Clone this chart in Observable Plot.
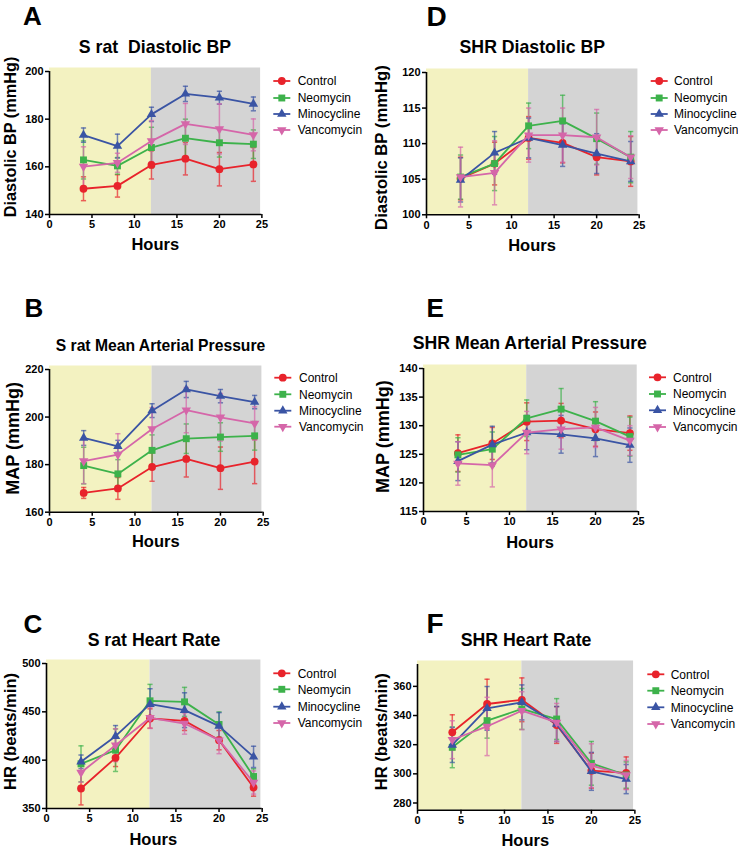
<!DOCTYPE html>
<html><head><meta charset="utf-8">
<script src="https://cdn.jsdelivr.net/npm/d3@7"></script>
<script src="https://cdn.jsdelivr.net/npm/@observablehq/plot@0.6"></script>
<style>
body{margin:0;background:#fff;width:738px;height:852px;position:relative;overflow:hidden;font-family:"Liberation Sans",Arial,sans-serif}
.panel{position:absolute}
#overlay{position:absolute;left:0;top:0;pointer-events:none}
</style></head>
<body>
<div id="root"></div>
<script>
// ---------- data ----------
const hours = [4, 8, 12, 16, 20, 24];
const groups = ["Control", "Neomycin", "Minocycline", "Vancomycin"];
const xTicks = [0, 5, 10, 15, 20, 25];
const phaseStart = [0, 12];
const phaseEnd = [12, 24.85];

// A: S rat Diastolic BP (mean, SEM) per group
const sratDiaMean = [
  [150.8, 152.0, 160.8, 163.4, 159.0, 161.0],
  [162.9, 160.4, 168.1, 172.0, 170.1, 169.5],
  [173.3, 168.7, 182.0, 190.6, 189.0, 186.4],
  [160.1, 161.7, 170.8, 178.0, 175.9, 173.4]
];
const sratDiaErr = [
  [5.0, 4.7, 5.9, 6.8, 7.0, 7.1],
  [8.0, 3.5, 8.5, 8.0, 6.0, 6.0],
  [3.0, 5.0, 3.0, 3.2, 2.7, 2.9],
  [8.3, 4.0, 8.6, 8.6, 10.5, 6.7]
];
const sratDiaTicks = [140, 160, 180, 200];

// B: S rat Mean Arterial Pressure
const sratMapMean = [
  [168.1, 170.0, 179.0, 182.4, 178.5, 181.3],
  [179.6, 176.1, 186.0, 190.9, 191.6, 192.1],
  [191.2, 187.7, 202.7, 211.6, 208.8, 206.3],
  [181.5, 184.2, 195.0, 202.9, 199.9, 197.3]
];
const sratMapErr = [
  [2.3, 4.6, 6.0, 7.6, 8.9, 9.3],
  [7.7, 6.0, 6.5, 6.2, 6.0, 6.0],
  [3.1, 2.5, 2.9, 3.4, 2.8, 2.8],
  [9.5, 8.8, 9.0, 9.5, 10.0, 7.0]
];
const sratMapTicks = [160, 180, 200, 220];

// C: S rat Heart Rate
const sratHrMean = [
  [370.7, 402.4, 443.1, 440.7, 420.7, 371.7],
  [396.2, 410.3, 461.4, 460.3, 436.9, 383.1],
  [398.3, 424.8, 457.9, 451.7, 435.2, 403.4],
  [387.2, 415.5, 443.8, 437.9, 420.7, 376.9]
];
const sratHrErr = [
  [17, 9, 10, 10, 10, 9],
  [18.6, 22, 17, 15, 13, 8],
  [7, 11, 16, 18, 14, 11],
  [10, 17, 11, 11, 14, 12]
];
const sratHrTicks = [350, 400, 450, 500];

// D: SHR Diastolic BP
const shrDiaMean = [
  [105.1, 107.2, 110.8, 110.1, 108.1, 107.5],
  [105.3, 107.2, 112.5, 113.2, 110.7, 108.1],
  [104.9, 108.7, 110.8, 109.8, 108.6, 107.5],
  [105.3, 105.9, 111.2, 111.2, 110.9, 108.1]
];
const shrDiaErr = [
  [3.0, 3.0, 3.0, 2.8, 2.5, 3.5],
  [3.1, 3.8, 3.2, 3.6, 3.6, 3.6],
  [3.1, 3.0, 2.8, 3.0, 2.8, 2.8],
  [4.2, 4.5, 3.8, 3.8, 3.9, 3.0]
];
const shrDiaTicks = [100, 105, 110, 115, 120];

// E: SHR Mean Arterial Pressure
const shrMapMean = [
  [125.2, 126.9, 130.7, 130.9, 129.4, 128.7],
  [124.9, 125.9, 131.3, 132.9, 130.8, 128.1],
  [123.8, 126.7, 128.8, 128.5, 127.8, 126.6],
  [123.4, 123.1, 128.8, 129.4, 129.7, 127.4]
];
const shrMapErr = [
  [3.2, 2.8, 3.3, 3.0, 3.0, 3.0],
  [3.0, 3.0, 3.2, 3.6, 3.4, 3.4],
  [3.4, 3.2, 3.0, 3.3, 3.2, 3.0],
  [3.8, 3.8, 3.7, 3.5, 3.5, 2.6]
];
const shrMapTicks = [115, 120, 125, 130, 135, 140];

// F: SHR Heart Rate
const shrHrMean = [
  [328.5, 347.9, 350.8, 333.5, 302.2, 300.6],
  [318.2, 336.5, 344.5, 337.6, 307.2, 299.2],
  [319.8, 344.9, 349.0, 334.2, 301.7, 296.4],
  [323.4, 332.5, 343.3, 335.3, 305.6, 299.2]
];
const shrHrErr = [
  [12, 17, 15, 12.6, 12, 11],
  [14, 12, 14, 14, 15, 9],
  [12, 15, 12, 12, 13, 10],
  [13, 20, 13, 13, 15, 10]
];
const shrHrTicks = [280, 300, 320, 340, 360];

// ---------- styles ----------
const colors = ["#e8232b", "#3db24b", "#3a54a4", "#d566a9"];
const phaseFill = ["#f3f2c1", "#d4d4d4"];
const sqrt3 = Math.sqrt(3);
const downTriangle = {
  draw(ctx, size) {
    const y = -Math.sqrt(size / (sqrt3 * 3));
    ctx.moveTo(0, -y * 2);
    ctx.lineTo(-sqrt3 * y, y);
    ctx.lineTo(sqrt3 * y, y);
    ctx.closePath();
  }
};
const hline = {
  draw(ctx, size) {
    const r = Math.sqrt(size / Math.PI);
    ctx.moveTo(-r, 0);
    ctx.lineTo(r, 0);
  }
};
const symbols = [d3.symbolCircle, d3.symbolSquare, d3.symbolTriangle, downTriangle];
const symR = [3.9, 3.9, 3.5, 3.5];

const panels = [
  {letter:"A", title:"S rat  Diastolic BP", ylabel:"Diastolic BP (mmHg)", mean:sratDiaMean, err:sratDiaErr, ticks:sratDiaTicks, dom:[140,200],
   x0:49.3, x25:261.7, yt:71, yb:214, letterX:23, letterY:25, letterSize:26, titleX:155, titleY:53.3, titleSize:17.7,
   ylX:15.5, ylY:137, ylSize:16.3, hoursX:155.3, hoursY:250, legX:273.3, legTX:297.7, legY:[81,98,114,130]},
  {letter:"B", title:"S rat Mean Arterial Pressure", ylabel:"MAP (mmHg)", mean:sratMapMean, err:sratMapErr, ticks:sratMapTicks, dom:[160,220],
   x0:49.3, x25:263, yt:369, yb:511.7, letterX:24.5, letterY:316.7, letterSize:26, titleX:160.5, titleY:351, titleSize:15.7,
   ylX:18.5, ylY:438.3, ylSize:18, hoursX:155.8, hoursY:547.3, legX:274.3, legTX:299, legY:[377.7,394.3,410.7,426.7]},
  {letter:"C", title:"S rat Heart Rate", ylabel:"HR (beats/min)", mean:sratHrMean, err:sratHrErr, ticks:sratHrTicks, dom:[350,500],
   x0:46, x25:261.7, yt:663.3, yb:808.3, letterX:23.5, letterY:633.3, letterSize:26, titleX:154, titleY:646, titleSize:17.7,
   ylX:15.5, ylY:731.5, ylSize:16.6, hoursX:153.3, hoursY:845, legX:273.3, legTX:297.7, legY:[673.3,689.3,706.7,723]},
  {letter:"D", title:"SHR Diastolic BP", ylabel:"Diastolic BP (mmHg)", mean:shrDiaMean, err:shrDiaErr, ticks:shrDiaTicks, dom:[100,120],
   x0:426.3, x25:639, yt:71.7, yb:214, letterX:426.5, letterY:26, letterSize:28, titleX:532.3, titleY:52.7, titleSize:17.7,
   ylX:387.4, ylY:147.5, ylSize:16.7, hoursX:532, hoursY:250.7, legX:650.7, legTX:674, legY:[81,98,114,130]},
  {letter:"E", title:"SHR Mean Arterial Pressure", ylabel:"MAP (mmHg)", mean:shrMapMean, err:shrMapErr, ticks:shrMapTicks, dom:[115,140],
   x0:423.3, x25:638.3, yt:367.7, yb:510.7, letterX:426.5, letterY:316.7, letterSize:26, titleX:529.8, titleY:349, titleSize:17.7,
   ylX:389.2, ylY:436.7, ylSize:18, hoursX:530, hoursY:548.3, legX:649, legTX:673, legY:[377.3,394,410.3,427]},
  {letter:"F", title:"SHR Heart Rate", ylabel:"HR (beats/min)", mean:shrHrMean, err:shrHrErr, ticks:shrHrTicks, dom:[275,375],
   x0:417.3, x25:634.7, yt:663.8, yb:809.6, letterX:426.5, letterY:632.7, letterSize:28, titleX:526, titleY:646, titleSize:17.7,
   ylX:386.5, ylY:731.7, ylSize:16.6, hoursX:525.3, hoursY:846, legX:647.3, legTX:670.7, legY:[674.3,690.7,707.3,724]}
];

const root = document.getElementById("root");
const ML = 40, MT = 10, MR = 10, MB = 28;
const phases = phaseStart.map((s, i) => ({x1: s, x2: phaseEnd[i], fill: phaseFill[i]}));

for (const p of panels) {
  const [y0, y1] = p.dom;
  const marks = [
    Plot.rect(phases, {x1: "x1", x2: "x2", y1: y0, y2: y1, fill: "fill", insetTop: -3.5}),
  ];
  const seriesRows = groups.map((g, gi) => hours.map((h, i) => ({hour: h, v: p.mean[gi][i], e: p.err[gi][i]})));
  groups.forEach((g, gi) => {
    const rows = seriesRows[gi], c = colors[gi];
    marks.push(Plot.ruleX(rows, {x: "hour", y1: d => d.v - d.e, y2: d => d.v + d.e, stroke: c, strokeWidth: 1.5, strokeOpacity: 0.7}));
    marks.push(Plot.dot(rows, {x: "hour", y: d => d.v + d.e, symbol: hline, r: 2.6, fill: "none", stroke: c, strokeWidth: 1.5, strokeOpacity: 0.7}));
    marks.push(Plot.dot(rows, {x: "hour", y: d => d.v - d.e, symbol: hline, r: 2.6, fill: "none", stroke: c, strokeWidth: 1.5, strokeOpacity: 0.7}));
  });
  groups.forEach((g, gi) => {
    const rows = seriesRows[gi], c = colors[gi];
    marks.push(Plot.line(rows, {x: "hour", y: "v", stroke: c, strokeWidth: 1.8}));
    marks.push(Plot.dot(rows, {x: "hour", y: "v", symbol: symbols[gi], r: symR[gi], fill: c, stroke: "none"}));
  });
  marks.push(Plot.ruleY([y0], {stroke: "black", strokeWidth: 1.6}));
  marks.push(Plot.ruleX([0], {stroke: "black", strokeWidth: 1.6}));
  marks.push(Plot.axisX({ticks: xTicks, tickSize: 4, tickPadding: 2, label: null, strokeWidth: 1.5, fontWeight: "bold", fontSize: 11}));
  marks.push(Plot.axisY({ticks: p.ticks, tickSize: 4, tickPadding: 2, label: null, strokeWidth: 1.5, fontWeight: "bold", fontSize: 11}));

  const w = (p.x25 - p.x0) + ML + MR;
  const h = (p.yb - p.yt) + MT + MB;
  const chart = Plot.plot({
    width: w, height: h, marginLeft: ML, marginTop: MT, marginRight: MR, marginBottom: MB,
    x: {domain: [0, 25]},
    y: {domain: p.dom},
    style: {fontFamily: "'Liberation Sans', Arial, sans-serif", fontSize: "11px", fontWeight: "bold", color: "black", background: "transparent", overflow: "visible"},
    marks
  });
  const div = document.createElement("div");
  div.className = "panel";
  div.style.left = (p.x0 - ML) + "px";
  div.style.top = (p.yt - MT) + "px";
  div.appendChild(chart);
  root.appendChild(div);
}

// ---------- overlay text and legends ----------
const svg = d3.select("body").append("svg").attr("id", "overlay").attr("width", 738).attr("height", 852)
  .style("font-family", "'Liberation Sans', Arial, sans-serif");
for (const p of panels) {
  svg.append("text").attr("x", p.letterX).attr("y", p.letterY).attr("font-size", p.letterSize).attr("font-weight", "bold").text(p.letter);
  svg.append("text").attr("x", p.titleX).attr("y", p.titleY).attr("font-size", p.titleSize).attr("font-weight", "bold")
    .attr("text-anchor", "middle").style("white-space", "pre").text(p.title);
  svg.append("text").attr("transform", `translate(${p.ylX},${p.ylY}) rotate(-90)`).attr("font-size", p.ylSize).attr("font-weight", "bold")
    .attr("text-anchor", "middle").text(p.ylabel);
  svg.append("text").attr("x", p.hoursX).attr("y", p.hoursY).attr("font-size", 16.5).attr("font-weight", "bold")
    .attr("text-anchor", "middle").text("Hours");
  groups.forEach((g, gi) => {
    const y = p.legY[gi];
    svg.append("line").attr("x1", p.legX).attr("x2", p.legX + 17).attr("y1", y).attr("y2", y).attr("stroke", colors[gi]).attr("stroke-width", 1.8);
    svg.append("path").attr("transform", `translate(${p.legX + 8.5},${y})`)
      .attr("d", d3.symbol(symbols[gi], symR[gi] * symR[gi] * Math.PI)()).attr("fill", colors[gi]);
    svg.append("text").attr("x", p.legTX).attr("y", y + 4.3).attr("font-size", 12).text(g);
  });
}
</script>
</body></html>
